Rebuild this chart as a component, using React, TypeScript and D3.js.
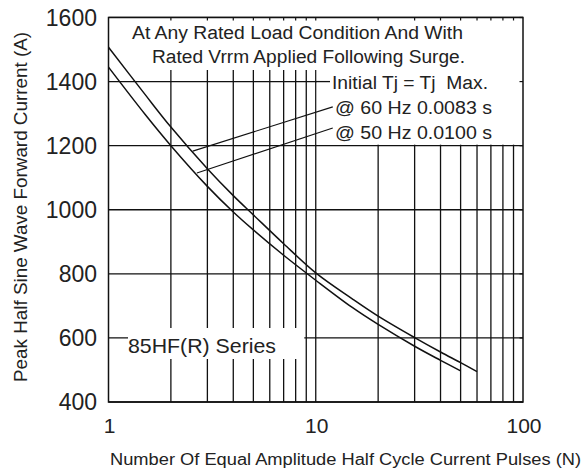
import React from "react";
import * as d3 from "d3";

const N_60 = [1, 1.5, 2, 3, 4, 5, 7, 10, 15, 20, 30, 40, 50, 60];
const I_60 = [1507, 1360, 1258, 1128, 1044, 984, 894, 803, 722, 668, 601, 556, 523, 495];
const N_50 = [1, 1.5, 2, 3, 4, 5, 7, 10, 15, 20, 30, 40, 50];
const I_50 = [1445, 1298, 1200, 1073, 993, 937, 858, 780, 695, 642, 574, 530, 497];

const Y_TICKS = [400, 600, 800, 1000, 1200, 1400, 1600];
const X_TICKS = [1, 10, 100];
const X_GRID = [2, 3, 4, 5, 6, 7, 8, 9, 10, 20, 30, 40, 50, 60, 70, 80, 90];

const TITLE_1 = "At Any Rated Load Condition And With";
const TITLE_2 = "Rated Vrrm Applied Following Surge.";
const NOTE_1 = "Initial Tj = Tj  Max.";
const NOTE_60 = "@ 60 Hz 0.0083 s";
const NOTE_50 = "@ 50 Hz 0.0100 s";
const SERIES = "85HF(R) Series";
const X_LABEL = "Number Of Equal Amplitude Half Cycle Current Pulses (N)";
const Y_LABEL = "Peak Half Sine Wave Forward Current (A)";

// leader lines in data coordinates: [N, A]
const LEADER_60 = [[2.55, 1183], [12.08, 1321]];
const LEADER_50 = [[2.67, 1115], [12.08, 1255]];

const W = 582;
const H = 473;
const L = 108.5, R = 523, T = 17.5, B = 402;
const INK = "#111";
const FONT = "Liberation Sans, Arial, sans-serif";

export default function App() {
  const x = d3.scaleLog().domain([1, 100]).range([L, R]);
  const y = d3.scaleLinear().domain([400, 1600]).range([B, T]);
  const line = d3
    .line<[number, number]>()
    .x((d) => x(d[0]))
    .y((d) => y(d[1]))
    .curve(d3.curveCatmullRom.alpha(0.5));
  const d60 = line(N_60.map((n, i) => [n, I_60[i]] as [number, number])) || "";
  const d50 = line(N_50.map((n, i) => [n, I_50[i]] as [number, number])) || "";
  const leader = d3
    .line<number[]>()
    .x((d) => x(d[0]))
    .y((d) => y(d[1]));

  return (
    <svg
      width={W}
      height={H}
      style={{ position: "absolute", left: 0, top: 0, background: "#fff" }}
      fontFamily={FONT}
    >
      <rect x={0} y={0} width={W} height={H} fill="#fff" />
      {/* grid */}
      {X_GRID.map((n) => (
        <line key={"gx" + n} x1={x(n)} x2={x(n)} y1={T} y2={B} stroke={INK} strokeWidth={1.3} />
      ))}
      {Y_TICKS.map((v) => (
        <line key={"gy" + v} x1={L} x2={R} y1={y(v)} y2={y(v)} stroke={INK} strokeWidth={1.3} />
      ))}
      {/* white masks behind text */}
      <rect x={L} y={T} width={R - L} height={70 - T} fill="#fff" />
      <rect x={x(10) + 1} y={T} width={R - x(10) - 1} height={y(1200) - T - 1} fill="#fff" />
      <rect x={128} y={328} width={x(9) - 128 - 2} height={31} fill="#fff" />
      {/* 1400 line continues to annotation */}
      <line x1={x(10)} x2={330} y1={y(1400)} y2={y(1400)} stroke={INK} strokeWidth={1.3} />
      {/* small inner ticks on top and right */}
      {X_GRID.map((n) => (
        <line key={"tt" + n} x1={x(n)} x2={x(n)} y1={T} y2={T + 3} stroke={INK} strokeWidth={1.2} />
      ))}
      {Y_TICKS.map((v) => (
        <line key={"tr" + v} x1={R} x2={R - 3.5} y1={y(v)} y2={y(v)} stroke={INK} strokeWidth={1.2} />
      ))}
      {/* frame */}
      <rect x={L} y={T} width={R - L} height={B - T} fill="none" stroke={INK} strokeWidth={1.5} />
      {/* curves */}
      <path d={d60} fill="none" stroke={INK} strokeWidth={1.5} />
      <path d={d50} fill="none" stroke={INK} strokeWidth={1.5} />
      {/* leaders */}
      <path d={leader(LEADER_60) || ""} fill="none" stroke={INK} strokeWidth={1.1} />
      <path d={leader(LEADER_50) || ""} fill="none" stroke={INK} strokeWidth={1.1} />
      {/* annotation texts */}
      <g fill="#222" fontSize={18}>
        <text x={132} y={39.3} textLength={331} lengthAdjust="spacingAndGlyphs">{TITLE_1}</text>
        <text x={152} y={62.5} textLength={313} lengthAdjust="spacingAndGlyphs">{TITLE_2}</text>
        <text x={332} y={89} textLength={156} lengthAdjust="spacingAndGlyphs" style={{ whiteSpace: "pre" }}>{NOTE_1}</text>
        <text x={335} y={114} textLength={157} lengthAdjust="spacingAndGlyphs">{NOTE_60}</text>
        <text x={335} y={138.5} textLength={157} lengthAdjust="spacingAndGlyphs">{NOTE_50}</text>
      </g>
      <text x={128} y={353} fontSize={21} fill="#222" textLength={148} lengthAdjust="spacingAndGlyphs">{SERIES}</text>
      {/* y tick labels */}
      {Y_TICKS.map((v) => (
        <text key={"yl" + v} x={97} y={y(v)} dy="0.36em" textAnchor="end" fontSize={23} fill="#222">
          {v}
        </text>
      ))}
      {/* x tick labels */}
      {X_TICKS.map((n) => (
        <text key={"xl" + n} x={x(n) + 1} y={433} textAnchor="middle" fontSize={21} fill="#222">
          {n}
        </text>
      ))}
      {/* axis titles */}
      <text x={110} y={465} fontSize={16} fill="#222" textLength={471} lengthAdjust="spacingAndGlyphs">
        {X_LABEL}
      </text>
      <text
        transform={`translate(26.5, ${207}) rotate(-90)`}
        textAnchor="middle"
        fontSize={17.5}
        fill="#222"
        textLength={350}
        lengthAdjust="spacingAndGlyphs"
      >
        {Y_LABEL}
      </text>
    </svg>
  );
}
